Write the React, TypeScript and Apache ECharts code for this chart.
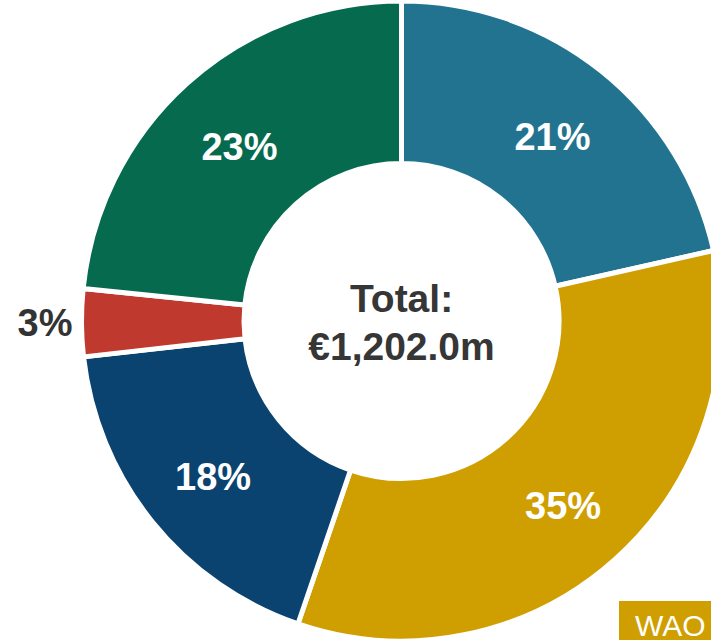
import React, { useEffect, useRef } from "react";
import * as echarts from "echarts";

// Segment values in €m (total €1,202.0m)
const categories = ["A", "B", "C", "D", "E"];
const values = [258, 406, 216, 41, 281];
// Percentage labels as printed on the chart
const percentLabels = ["21%", "35%", "18%", "3%", "23%"];
const colors = ["#22738F", "#CF9E00", "#0B4370", "#C0392E", "#066A4F"];
const totalTitle = "Total:";
const totalValue = "€1,202.0m";
const footerLabel = "WAO";

export default function App() {
  const ref = useRef<HTMLDivElement>(null);
  useEffect(() => {
    if (!ref.current) return;
    const chart = echarts.init(ref.current, null, { renderer: "svg" });
    const data = categories.map((name, i) => {
      const small = values[i] / 1202 < 0.05;
      return {
        name,
        value: values[i],
        itemStyle: { color: colors[i] },
        label: small
          ? { position: "outside", color: "#333333" }
          : { position: "inside", color: "#ffffff", offset: [0, 5] },
        labelLine: { show: false, length: 0, length2: 4 },
      };
    });
    chart.setOption({
      animation: false,
      series: [
        {
          type: "pie",
          center: [401.5, 321],
          radius: [157.5, 320],
          startAngle: 90,
          clockwise: true,
          avoidLabelOverlap: false,
          itemStyle: { borderColor: "#ffffff", borderWidth: 5 },
          label: {
            show: true,
            formatter: (p: any) => percentLabels[p.dataIndex],
            fontFamily: "'Liberation Sans', Arial, sans-serif",
            fontWeight: "bold",
            fontSize: 38,
          },
          data,
        },
      ],
      graphic: [
        {
          type: "text",
          x: 401.5,
          y: 279,
          style: {
            text: totalTitle,
            textAlign: "center",
            textVerticalAlign: "top",
            verticalAlign: "top",
            fill: "#363636",
            font: "bold 39px 'Liberation Sans', Arial, sans-serif",
          },
        },
        {
          type: "text",
          x: 401.5,
          y: 327,
          style: {
            text: totalValue,
            textAlign: "center",
            textVerticalAlign: "top",
            verticalAlign: "top",
            fill: "#363636",
            font: "bold 39px 'Liberation Sans', Arial, sans-serif",
          },
        },
        {
          type: "rect",
          shape: { x: 619, y: 601, width: 100, height: 45 },
          style: { fill: "#CF9E00" },
        },
        {
          type: "text",
          x: 635,
          y: 610,
          style: {
            text: footerLabel,
            fill: "#ffffff",
            textVerticalAlign: "top",
            verticalAlign: "top",
            font: "30px 'Liberation Sans', Arial, sans-serif",
          },
        },
      ],
    });
    return () => chart.dispose();
  }, []);
  return (
    <div
      ref={ref}
      style={{ position: "fixed", left: 0, top: 0, width: 711, height: 640, background: "#ffffff" }}
    />
  );
}
